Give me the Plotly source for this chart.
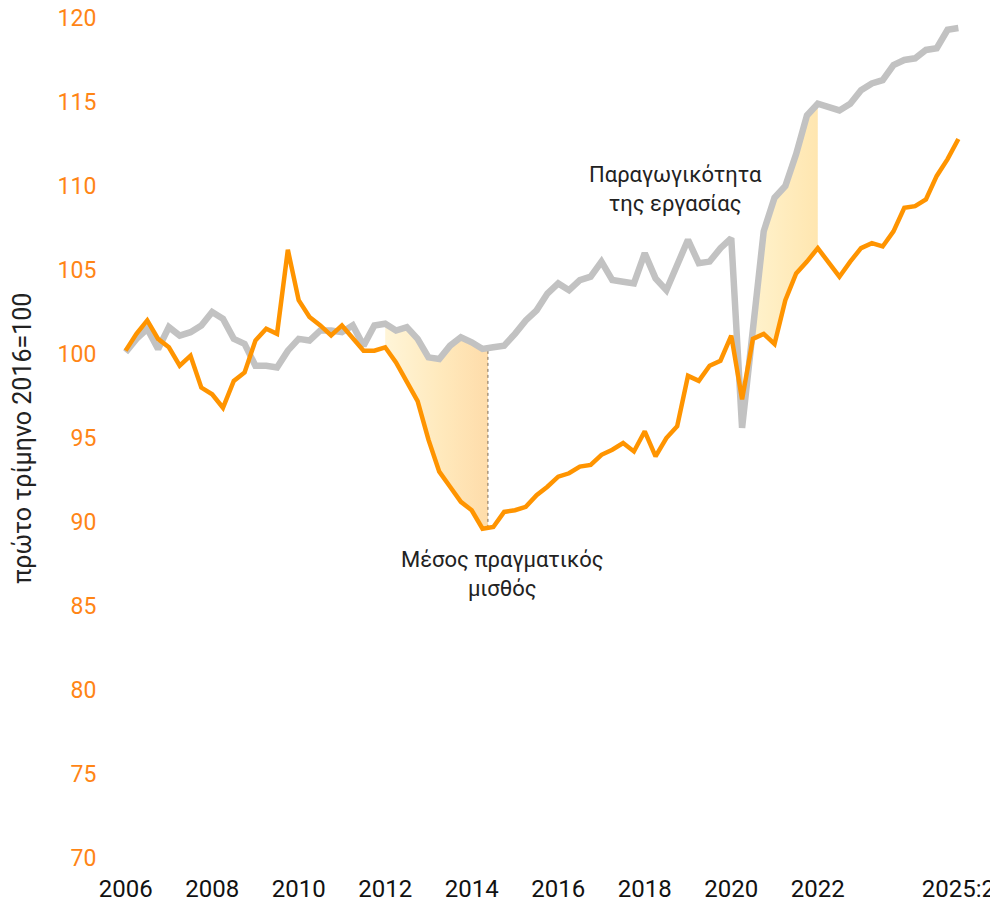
import numpy as np
import plotly.graph_objects as go

# Quarterly data, 2006Q1 .. 2025Q2 (index, 2016Q1 = 100)
productivity = [
    100.1, 100.9, 101.5, 100.3,
    101.6, 101.1, 101.3, 101.7,
    102.5, 102.1, 100.9, 100.6,
    99.3, 99.3, 99.2, 100.2,
    100.9, 100.8, 101.4, 101.4,
    101.3, 101.7, 100.5, 101.7,
    101.8, 101.4, 101.6, 100.9,
    99.8, 99.7, 100.5, 101.0,
    100.7, 100.3, 100.4, 100.5,
    101.2, 102.0, 102.6, 103.6,
    104.2, 103.8, 104.4, 104.6,
    105.5, 104.4, 104.3, 104.2,
    106.0, 104.5, 103.8, 105.3,
    106.8, 105.4, 105.5, 106.3,
    106.9, 95.6, 101.4, 107.3,
    109.3, 110.0, 111.9, 114.2,
    114.9, 114.7, 114.5, 114.9,
    115.7, 116.1, 116.3, 117.2,
    117.5, 117.6, 118.1, 118.2,
    119.3, 119.4,
]
real_wage = [
    100.2, 101.2, 102.0, 100.9,
    100.4, 99.3, 99.9, 98.0,
    97.6, 96.8, 98.4, 98.9,
    100.8, 101.5, 101.2, 106.2,
    103.2, 102.2, 101.7, 101.1,
    101.7, 100.9, 100.2, 100.2,
    100.4, 99.5, 98.4, 97.2,
    94.9, 93.0, 92.1, 91.2,
    90.7, 89.6, 89.7, 90.6,
    90.7, 90.9, 91.6, 92.1,
    92.7, 92.9, 93.3, 93.4,
    94.0, 94.3, 94.7, 94.2,
    95.4, 93.9, 95.0, 95.7,
    98.7, 98.4, 99.3, 99.6,
    101.1, 97.3, 100.9, 101.2,
    100.6, 103.2, 104.8, 105.5,
    106.3, 105.5, 104.6, 105.5,
    106.3, 106.6, 106.4, 107.3,
    108.7, 108.8, 109.2, 110.6,
    111.6, 112.8,
]
tick_vals_x = [2006, 2008, 2010, 2012, 2014, 2016, 2018, 2020, 2022, 2025.25]
tick_text_x = ["2006", "2008", "2010", "2012", "2014", "2016", "2018", "2020", "2022", "2025:2"]
tick_vals_y = [70, 75, 80, 85, 90, 95, 100, 105, 110, 115, 120]

gap1 = (2012.0, 2014.375)   # shaded gap periods
gap2 = (2020.5, 2022.0)
marker_x = 2014.375

t = 2006 + np.arange(len(productivity)) / 4.0
prod = np.array(productivity)
wage = np.array(real_wage)

GRAY = "#C2C2C2"
ORANGE = "#FF9400"
TICK_ORANGE = "#FF8515"
FONT = "Roboto"

fig = go.Figure()


def gap_polygon(t0, t1):
    m = (t >= t0) & (t <= t1)
    xs = list(t[m])
    if t1 not in xs:
        xs.append(t1)
    if t0 not in xs:
        xs.insert(0, t0)
    xs = np.array(xs)
    top = np.interp(xs, t, prod)
    bot = np.interp(xs, t, wage)
    px = np.concatenate([xs, xs[::-1]])
    py = np.concatenate([top, bot[::-1]])
    return px, py


for (a, b), cs in [
    (gap1, [[0, "#FFF5D8"], [0.55, "#FFE9BC"], [1, "#FEDCAA"]]),
    (gap2, [[0, "#FFF2CC"], [1, "#FFE6B0"]]),
]:
    px, py = gap_polygon(a, b)
    fig.add_trace(go.Scatter(
        x=px, y=py, mode="lines", line=dict(width=0),
        fill="toself",
        fillgradient=dict(type="horizontal", colorscale=cs),
        hoverinfo="skip", showlegend=False,
    ))

# dotted marker line
fig.add_trace(go.Scatter(
    x=[marker_x, marker_x],
    y=[float(np.interp(marker_x, t, wage)), float(np.interp(marker_x, t, prod))],
    mode="lines", line=dict(color="#7a6a58", width=1, dash="dot"),
    hoverinfo="skip", showlegend=False,
))

fig.add_trace(go.Scatter(
    x=t, y=prod, mode="lines", name="Παραγωγικότητα της εργασίας",
    line=dict(color=GRAY, width=6.5), showlegend=False,
))
fig.add_trace(go.Scatter(
    x=t, y=wage, mode="lines", name="Μέσος πραγματικός μισθός",
    line=dict(color=ORANGE, width=4.5), showlegend=False,
))

fig.add_annotation(
    x=2018.72, y=109.8, xref="x", yref="y",
    text="Παραγωγικότητα<br>της εργασίας", showarrow=False,
    font=dict(family=FONT, size=22, color="#222222"), align="center",
)
fig.add_annotation(
    x=2014.72, y=86.9, xref="x", yref="y",
    text="Μέσος πραγματικός<br>μισθός", showarrow=False,
    font=dict(family=FONT, size=22, color="#222222"), align="center",
)
fig.add_annotation(
    x=-0.094, y=0.5, xref="paper", yref="paper",
    text="πρώτο τρίμηνο 2016=100", textangle=-90, showarrow=False,
    font=dict(family=FONT, size=25, color="#222222"),
    xanchor="center", yanchor="middle",
)

fig.update_layout(
    width=998, height=903,
    margin=dict(l=96, r=26, t=10, b=53, autoexpand=False),
    paper_bgcolor="white", plot_bgcolor="white",
    font=dict(family=FONT),
    xaxis=dict(
        range=[2005.5, 2025.75], tickvals=tick_vals_x, ticktext=tick_text_x,
        showgrid=False, zeroline=False, showline=False, automargin=False,
        ticks="outside", ticklen=9, tickcolor="rgba(0,0,0,0)",
        ticklabeloverflow="allow",
        tickfont=dict(family=FONT, size=24, color="#111111"),
    ),
    yaxis=dict(
        range=[70, 120], tickvals=tick_vals_y,
        showgrid=False, zeroline=False, showline=False, automargin=False,
        ticks="outside", ticklen=2, tickcolor="rgba(0,0,0,0)",
        ticklabeloverflow="allow",
        tickfont=dict(family=FONT, size=23, color=TICK_ORANGE),
    ),
)

fig.write_html("out.html")
